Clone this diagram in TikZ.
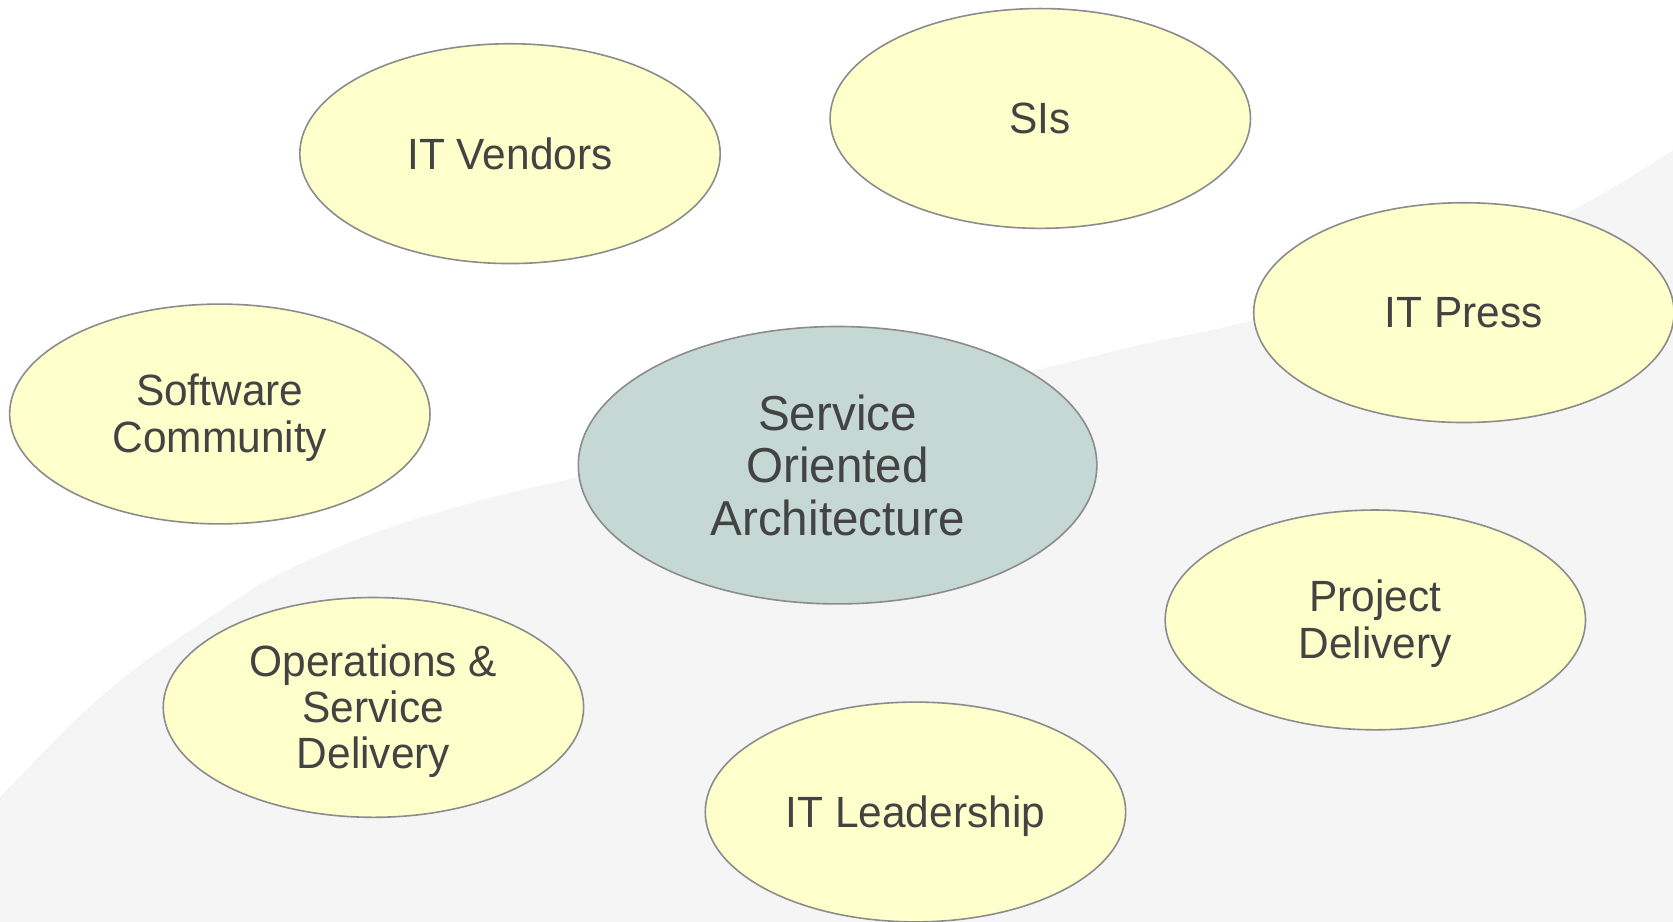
\documentclass[tikz,border=0pt]{standalone}
\usepackage{fontspec}
\setmainfont[FakeStretch=0.97]{Liberation Sans}
\usetikzlibrary{shapes.geometric}
\definecolor{bgshade}{HTML}{F5F5F5}
\definecolor{bubble}{HTML}{FFFFCC}
\definecolor{core}{HTML}{C5D8D3}
\definecolor{rim}{HTML}{8C8C8C}
\definecolor{ink}{HTML}{434343}
\tikzset{
  txt/.style={align=center, text=ink, inner sep=0pt, font=\fontsize{20.5}{21.75}\selectfont},
  bub/.style={ellipse, draw=rim, line width=0.75pt, fill=bubble, inner sep=0pt,
    minimum width=197pt, minimum height=103pt, txt},
  corebub/.style={bub, fill=core, minimum width=243pt, minimum height=130pt,
    font=\fontsize{23}{24.5}\selectfont},
  low/.style={label={[txt, yshift=-1.75pt]center:#1}}
}
\begin{document}
\begin{tikzpicture}[x=0.5pt,y=-0.5pt]
\useasboundingbox (0,0) rectangle (1568,864);
\fill[white] (0,0) rectangle (1568,864);
\fill[bgshade] plot[smooth, tension=0.5] coordinates {(0,747) (31,715) (78,668) (125,628) (187,585) (250,544) (312,515) (375,491) (469,464) (538,448) (750,398) (966,348) (1074,322) (1171,301) (1330,255) (1468,200) (1568,141)} -- (1568,864) -- (0,864) -- cycle;
\node[bub] (vendors) at (478,144) {IT Vendors};
\node[bub] (sis) at (975,111) {SIs};
\node[bub] (press) at (1372,293) {IT Press};
\node[bub, low={Software\\Community}] (software) at (206,388) {};
\node[corebub] (soa) at (785,436) {Service\\Oriented\\Architecture};
\node[bub, low={Operations \&\\Service\\Delivery}] (ops) at (350,663) {};
\node[bub, low={Project\\Delivery}] (project) at (1289,581) {};
\node[bub, text depth=0pt] (leader) at (858,761) {IT Leadership};
\end{tikzpicture}
\end{document}
